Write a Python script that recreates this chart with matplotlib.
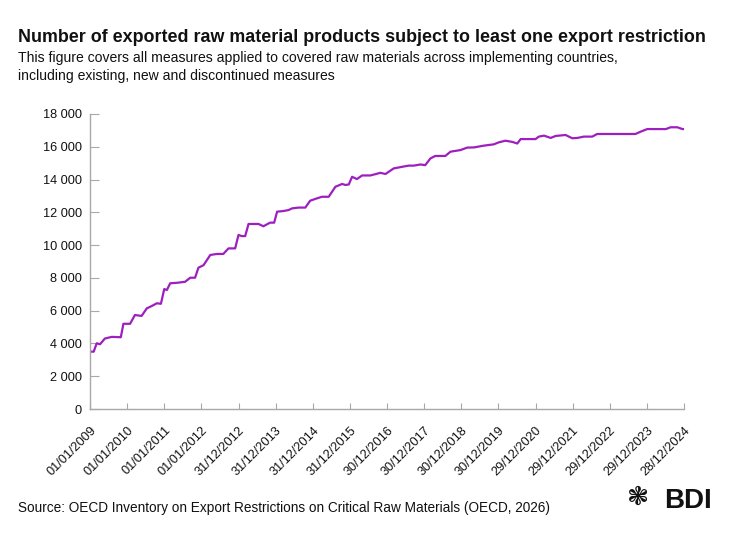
import matplotlib
matplotlib.use("Agg")
import matplotlib.pyplot as plt
from matplotlib.ticker import FuncFormatter
from matplotlib.transforms import ScaledTranslation

plt.rcParams['font.family'] = ['Liberation Sans', 'DejaVu Sans']

# time in years (365-day units) since 01/01/2009
t_years = [0.00, 0.10, 0.18, 0.27, 0.40, 0.585, 0.83, 0.90, 1.08, 1.21, 1.39, 1.53, 1.66,
           1.80, 1.91, 2.00, 2.07, 2.16, 2.34, 2.56, 2.70, 2.83, 2.92, 3.06, 3.24, 3.42,
           3.59, 3.73, 3.91, 4.00, 4.09, 4.18, 4.27, 4.54, 4.67, 4.85, 4.96, 5.04, 5.21,
           5.35, 5.44, 5.62, 5.80, 5.93, 6.11, 6.25, 6.43, 6.61, 6.79, 6.88, 6.97, 7.06,
           7.19, 7.33, 7.55, 7.69, 7.82, 7.96, 8.18, 8.58, 8.72, 8.90, 9.03, 9.17, 9.30,
           9.57, 9.71, 9.98, 10.16, 10.34, 10.61, 10.88, 11.01, 11.19, 11.37, 11.51, 11.60,
           12.00, 12.09, 12.23, 12.41, 12.54, 12.81, 12.99, 13.13, 13.30, 13.53, 13.66,
           14.02, 14.38, 14.69, 14.83, 15.01, 15.51, 15.64, 15.82, 15.96, 16.00]
products = [3500, 3500, 4010, 3950, 4300, 4400, 4380, 5200, 5200, 5735, 5680, 6140, 6280,
            6450, 6420, 7320, 7260, 7670, 7700, 7760, 8010, 8010, 8620, 8780, 9400, 9460,
            9460, 9800, 9800, 10620, 10550, 10550, 11290, 11290, 11150, 11370, 11370, 12040,
            12080, 12140, 12240, 12290, 12290, 12710, 12850, 12950, 12950, 13560, 13730,
            13670, 13700, 14170, 14030, 14250, 14250, 14330, 14410, 14340, 14680, 14850,
            14850, 14920, 14880, 15290, 15440, 15440, 15700, 15800, 15950, 15960, 16070,
            16150, 16270, 16370, 16300, 16200, 16470, 16470, 16620, 16680, 16540, 16660,
            16720, 16520, 16540, 16620, 16620, 16780, 16780, 16780, 16780, 16920, 17080,
            17080, 17190, 17190, 17080, 17080]

tick_labels = ['01/01/2009', '01/01/2010', '01/01/2011', '01/01/2012', '31/12/2012',
               '31/12/2013', '31/12/2014', '31/12/2015', '30/12/2016', '30/12/2017',
               '30/12/2018', '30/12/2019', '29/12/2020', '29/12/2021', '29/12/2022',
               '29/12/2023', '28/12/2024']
y_ticks = [0, 2000, 4000, 6000, 8000, 10000, 12000, 14000, 16000, 18000]

title = "Number of exported raw material products subject to least one export restriction"
subtitle_lines = ["This figure covers all measures applied to covered raw materials across implementing countries,",
                  "including existing, new and discontinued measures"]
source = "Source: OECD Inventory on Export Restrictions on Critical Raw Materials (OECD, 2026)"

W, H = 735, 536
fig = plt.figure(figsize=(W / 100, H / 100), dpi=100)
fig.patch.set_facecolor('white')

ax = fig.add_axes([90 / W, 1 - 409 / H, (684 - 90) / W, (409 - 114) / H])
ax.plot(t_years, products, color='#9E1FBF', lw=1.6, solid_joinstyle='round')
ax.set_xlim(0, 16)
ax.set_ylim(0, 18000)
ax.set_xticks(range(len(tick_labels)))
ax.set_xticklabels(tick_labels, rotation=45, ha='right', rotation_mode='anchor')
ax.set_yticks(y_ticks)
ax.yaxis.set_major_formatter(FuncFormatter(lambda v, p: f"{int(v):,}".replace(',', ' ')))

shift = ScaledTranslation(-3 / 72, 0, fig.dpi_scale_trans)
for lbl in ax.get_xticklabels():
    lbl.set_transform(lbl.get_transform() + shift)

for s in ['top', 'right']:
    ax.spines[s].set_visible(False)
for s in ['left', 'bottom']:
    ax.spines[s].set_color('#a8a8a8')
    ax.spines[s].set_linewidth(1.0)
ax.tick_params(axis='y', direction='in', length=6.5, color='#a8a8a8', labelsize=9.2,
               labelcolor='#111111', pad=6)
ax.tick_params(axis='x', direction='in', length=4, color='#a8a8a8', labelsize=9.2,
               labelcolor='#111111', pad=11)

fig.text(18 / W, 1 - 42 / H, title, fontsize=12.9, fontweight='bold', color='#111111',
         ha='left', va='baseline')
fig.text(18 / W, 1 - 62 / H, subtitle_lines[0], fontsize=10.05, color='#111111', ha='left',
         va='baseline')
fig.text(18 / W, 1 - 80 / H, subtitle_lines[1], fontsize=10.05, color='#111111', ha='left',
         va='baseline')
fig.text(18 / W, 1 - 512 / H, source, fontsize=9.8, color='#111111', ha='left',
         va='baseline')
fig.text(712 / W, 1 - 508 / H, "BDI", fontsize=20, fontweight='bold', color='#111111',
         ha='right', va='baseline')
fig.text(638 / W, 1 - 498 / H, "\u2743", fontsize=19, color='#111111', ha='center',
         va='center', family=['DejaVu Sans'])

fig.savefig('out.png', dpi=100)
